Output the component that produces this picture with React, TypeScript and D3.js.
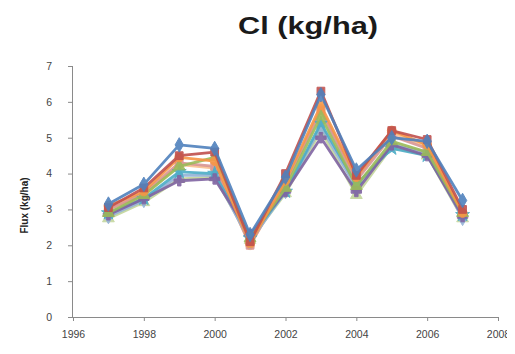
import { useEffect, useRef } from 'react';
import * as d3 from 'd3';

const years = [1997, 1998, 1999, 2000, 2001, 2002, 2003, 2004, 2005, 2006, 2007];

const seriesNames = ['S1', 'S2', 'S3', 'S4', 'S5', 'S6', 'S7', 'S8', 'S9', 'S10'];
const seriesColors = ['#4F81BD', '#C0504D', '#9BBB59', '#8064A2', '#4BACC6', '#F79646', '#95B3D7', '#D99694', '#C3D69B', '#FAC090'];
const seriesValues = [
  [3.15, 3.7, 4.8, 4.7, 2.3, 3.9, 6.2, 4.1, 5.0, 4.9, 3.25],
  [3.05, 3.6, 4.5, 4.6, 2.1, 4.0, 6.3, 3.95, 5.2, 4.95, 3.0],
  [2.9, 3.4, 4.2, 4.45, 2.2, 3.6, 5.6, 3.65, 4.9, 4.6, 2.9],
  [2.85, 3.3, 3.8, 3.85, 2.3, 3.5, 5.0, 3.5, 4.8, 4.5, 2.8],
  [2.9, 3.3, 4.05, 4.0, 2.2, 3.5, 5.4, 3.7, 4.7, 4.5, 2.85],
  [3.1, 3.5, 4.45, 4.35, 2.05, 3.8, 5.9, 3.9, 5.2, 4.8, 2.9],
  [2.8, 3.25, 3.95, 3.95, 2.1, 3.5, 5.3, 3.6, 4.8, 4.6, 2.75],
  [3.0, 3.45, 4.3, 4.2, 2.0, 3.75, 5.75, 3.8, 5.05, 4.7, 2.85],
  [2.75, 3.2, 3.85, 3.9, 2.15, 3.45, 5.2, 3.4, 4.75, 4.5, 2.75],
  [3.0, 3.4, 4.25, 4.15, 2.0, 3.7, 5.8, 3.85, 5.15, 4.75, 2.9],
];
const markerTypes = [d3.symbolDiamond, d3.symbolSquare, d3.symbolTriangle, d3.symbolCross, d3.symbolStar, d3.symbolCircle, d3.symbolDiamond, d3.symbolSquare, d3.symbolTriangle, d3.symbolCircle];

const yTicks = [0, 1, 2, 3, 4, 5, 6, 7];
const xTicks = [1996, 1998, 2000, 2002, 2004, 2006, 2008];

export default function App() {
  const svgRef = useRef<SVGSVGElement>(null);

  useEffect(() => {
    if (!svgRef.current) return;
    const svg = d3.select(svgRef.current);
    svg.selectAll('*').remove();

    const margin = { top: 66, left: 73, right: 17, bottom: 37 };
    const width = 515;
    const height = 354;

    const x = d3.scaleLinear().domain([1996, 2008]).range([margin.left, width - margin.right]);
    const y = d3.scaleLinear().domain([0, 7]).range([height - margin.bottom, margin.top]);

    svg.append('rect').attr('width', width).attr('height', height).attr('fill', '#fff');

    // Title
    svg
      .append('text')
      .attr('x', 308)
      .attr('y', 34)
      .attr('text-anchor', 'middle')
      .attr('font-family', 'Liberation Sans, Arial, sans-serif')
      .attr('font-weight', 'bold')
      .attr('font-size', 23)
      .attr('textLength', 140)
      .attr('lengthAdjust', 'spacingAndGlyphs')
      .attr('fill', '#1a1a1a')
      .text('Cl (kg/ha)');

    // Y axis
    const yAxis = svg
      .append('g')
      .attr('transform', `translate(${margin.left},0)`)
      .call(d3.axisLeft(y).tickValues(yTicks).tickSize(5).tickPadding(16).tickFormat(d3.format('d')));
    yAxis.select('.domain').attr('stroke', '#8a8a8a').attr('d', `M-0.5,${y(0)}V${y(7)}`);
    yAxis.selectAll('line').attr('stroke', '#8a8a8a');
    yAxis
      .selectAll('text')
      .attr('font-family', 'Liberation Sans, Arial, sans-serif')
      .attr('font-size', 10.5)
      .attr('fill', '#444');

    // X axis
    const xAxis = svg
      .append('g')
      .attr('transform', `translate(0,${y(0)})`)
      .call(d3.axisBottom(x).tickValues(xTicks).tickSize(4).tickPadding(10).tickFormat(d3.format('d')));
    xAxis.select('.domain').attr('stroke', '#8a8a8a').attr('d', `M${x(1996)},0.5H${x(2008)}`);
    xAxis.selectAll('line').attr('stroke', '#8a8a8a');
    xAxis
      .selectAll('text')
      .attr('font-family', 'Liberation Sans, Arial, sans-serif')
      .attr('font-size', 10.5)
      .attr('fill', '#444');

    // Y axis label
    svg
      .append('text')
      .attr('transform', `translate(28, ${(y(0) + y(7)) / 2 + 14}) rotate(-90)`)
      .attr('text-anchor', 'middle')
      .attr('font-family', 'Liberation Sans, Arial, sans-serif')
      .attr('font-weight', 'bold')
      .attr('font-size', 10)
      .attr('fill', '#222')
      .text('Flux (kg/ha)');

    const line = d3
      .line<number>()
      .x((_, i) => x(years[i]))
      .y((d) => y(d));

    const order = [9, 8, 7, 6, 4, 3, 2, 5, 1, 0];
    order.forEach((si) => {
      const g = svg.append('g').attr('opacity', 0.9);
      g.append('path')
        .attr('d', line(seriesValues[si]))
        .attr('fill', 'none')
        .attr('stroke', seriesColors[si])
        .attr('stroke-width', 2.8)
        .attr('stroke-linejoin', 'round');
      g.selectAll('path.m')
        .data(seriesValues[si])
        .enter()
        .append('path')
        .attr('class', 'm')
        .attr('transform', (d, i) => `translate(${x(years[i])},${y(d)})`)
        .attr('d', d3.symbol().type(markerTypes[si]).size(60)())
        .attr('fill', seriesColors[si])
        .attr('stroke', seriesColors[si])
        .attr('stroke-width', 1);
    });
  }, []);

  return (
    <div style={{ width: 515, height: 354, margin: -8 }}>
      <svg ref={svgRef} width={515} height={354} style={{ display: 'block' }} />
    </div>
  );
}
